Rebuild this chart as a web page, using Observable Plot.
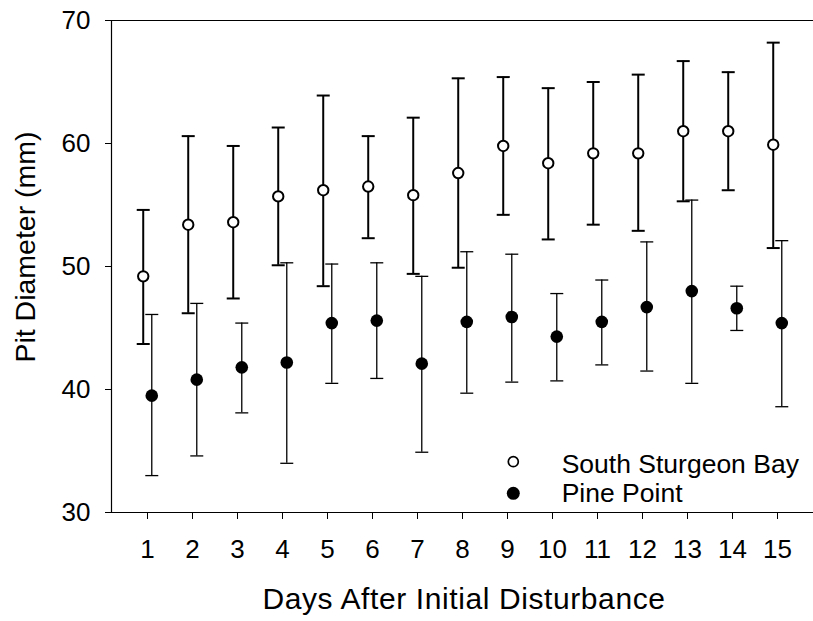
<!DOCTYPE html>
<html>
<head>
<meta charset="utf-8">
<script src="https://cdn.jsdelivr.net/npm/d3@7"></script>
<script src="https://cdn.jsdelivr.net/npm/@observablehq/plot@0.6"></script>
<style>
  html, body { margin: 0; padding: 0; background: #fff; }
  svg { display: block; }
</style>
</head>
<body>
<div id="chart"></div>
<script>
const days = [1, 2, 3, 4, 5, 6, 7, 8, 9, 10, 11, 12, 13, 14, 15];
const ssbMean  = [49.2, 53.4, 53.6, 55.7, 56.2, 56.5, 55.8, 57.6, 59.8, 58.4, 59.2, 59.2, 61.0, 61.0, 59.9];
const ssbUpper = [54.6, 60.6, 59.8, 61.3, 63.9, 60.6, 62.1, 65.3, 65.4, 64.5, 65.0, 65.6, 66.7, 65.8, 68.2];
const ssbLower = [43.7, 46.2, 47.4, 50.1, 48.4, 52.3, 49.4, 49.9, 54.2, 52.2, 53.4, 52.9, 55.3, 56.2, 51.5];
const ppMean   = [39.5, 40.8, 41.8, 42.2, 45.4, 45.6, 42.1, 45.5, 45.9, 44.3, 45.5, 46.7, 48.0, 46.6, 45.4];
const ppUpper  = [46.1, 47.0, 45.4, 50.3, 50.2, 50.3, 49.2, 51.2, 51.0, 47.8, 48.9, 52.0, 55.4, 48.4, 52.1];
const ppLower  = [33.0, 34.6, 38.1, 34.0, 40.5, 40.9, 34.9, 39.7, 40.6, 40.7, 42.0, 41.5, 40.5, 44.8, 38.6];
const yTicks = [30, 40, 50, 60, 70];
const seriesNames = ["South Sturgeon Bay", "Pine Point"];
const xTitle = "Days After Initial Disturbance";
const yTitle = "Pit Diameter (mm)";

const xDomain = [0.2, 15.8];
const yDomain = [30, 70];
const offset = 0.095;
const FONT = "'Liberation Sans', Arial, Helvetica, sans-serif";

const idx = days.map((d, i) => i);
const ssbX = i => days[i] - offset;
const ppX = i => days[i] + offset;

// horizontal cap symbol (width = 2r)
const capSymbol = {
  draw(ctx, size) {
    const w = Math.sqrt(size / Math.PI);
    ctx.moveTo(-w, 0);
    ctx.lineTo(w, 0);
  }
};

const plot = Plot.plot({
  width: 813,
  height: 621,
  marginLeft: 111,
  marginRight: 0,
  marginTop: 20,
  marginBottom: 109,
  style: { fontFamily: FONT, fontSize: "26px", color: "#000", background: "#fff" },
  x: { domain: xDomain, ticks: days, tickSize: 7, tickPadding: 20, tickFormat: d => String(d), label: null },
  y: { domain: yDomain, ticks: yTicks, tickSize: 6, tickPadding: 15, label: null },
  marks: [
    Plot.ruleY([yDomain[1]], { stroke: "#000", strokeWidth: 1.2 }),
    Plot.ruleY([yDomain[0]], { stroke: "#000", strokeWidth: 1.2 }),
    Plot.ruleX([xDomain[0]], { stroke: "#000", strokeWidth: 1.2 }),
    // South Sturgeon Bay error bars
    Plot.ruleX(idx, { x: ssbX, y1: i => ssbLower[i], y2: i => ssbUpper[i], stroke: "#000", strokeWidth: 2 }),
    Plot.dot(idx, { x: ssbX, y: i => ssbUpper[i], symbol: capSymbol, r: 6.5, fill: "none", stroke: "#000", strokeWidth: 2 }),
    Plot.dot(idx, { x: ssbX, y: i => ssbLower[i], symbol: capSymbol, r: 6.5, fill: "none", stroke: "#000", strokeWidth: 2 }),
    // Pine Point error bars
    Plot.ruleX(idx, { x: ppX, y1: i => ppLower[i], y2: i => ppUpper[i], stroke: "#000", strokeWidth: 1.3 }),
    Plot.dot(idx, { x: ppX, y: i => ppUpper[i], symbol: capSymbol, r: 6.5, fill: "none", stroke: "#000", strokeWidth: 1.3 }),
    Plot.dot(idx, { x: ppX, y: i => ppLower[i], symbol: capSymbol, r: 6.5, fill: "none", stroke: "#000", strokeWidth: 1.3 }),
    // points
    Plot.dot(idx, { x: ssbX, y: i => ssbMean[i], r: 5.2, fill: "#fff", stroke: "#000", strokeWidth: 2 }),
    Plot.dot(idx, { x: ppX, y: i => ppMean[i], r: 6.3, fill: "#000", stroke: "none" })
  ]
});

const svg = d3.select(plot);
// axis titles
svg.append("text")
  .attr("x", 464).attr("y", 609)
  .attr("text-anchor", "middle")
  .attr("font-family", FONT).attr("font-size", 30).attr("letter-spacing", "0.6px").attr("fill", "#000")
  .text(xTitle);
svg.append("text")
  .attr("transform", "translate(35,247) rotate(-90)")
  .attr("text-anchor", "middle")
  .attr("font-family", FONT).attr("font-size", 28.5).attr("fill", "#000")
  .text(yTitle);
// legend
const lg = svg.append("g").attr("text-anchor", "start");
lg.append("circle").attr("cx", 513.3).attr("cy", 461.7).attr("r", 5)
  .attr("fill", "#fff").attr("stroke", "#000").attr("stroke-width", 1.7);
lg.append("circle").attr("cx", 513.3).attr("cy", 493.3).attr("r", 6.5)
  .attr("fill", "#000");
lg.append("text").attr("x", 561.7).attr("y", 473).attr("text-anchor", "start")
  .attr("font-family", FONT).attr("font-size", 26.5).attr("fill", "#000")
  .text(seriesNames[0]);
lg.append("text").attr("x", 561.7).attr("y", 501.7).attr("text-anchor", "start")
  .attr("font-family", FONT).attr("font-size", 26.5).attr("fill", "#000")
  .text(seriesNames[1]);

document.getElementById("chart").appendChild(plot);
</script>
</body>
</html>
